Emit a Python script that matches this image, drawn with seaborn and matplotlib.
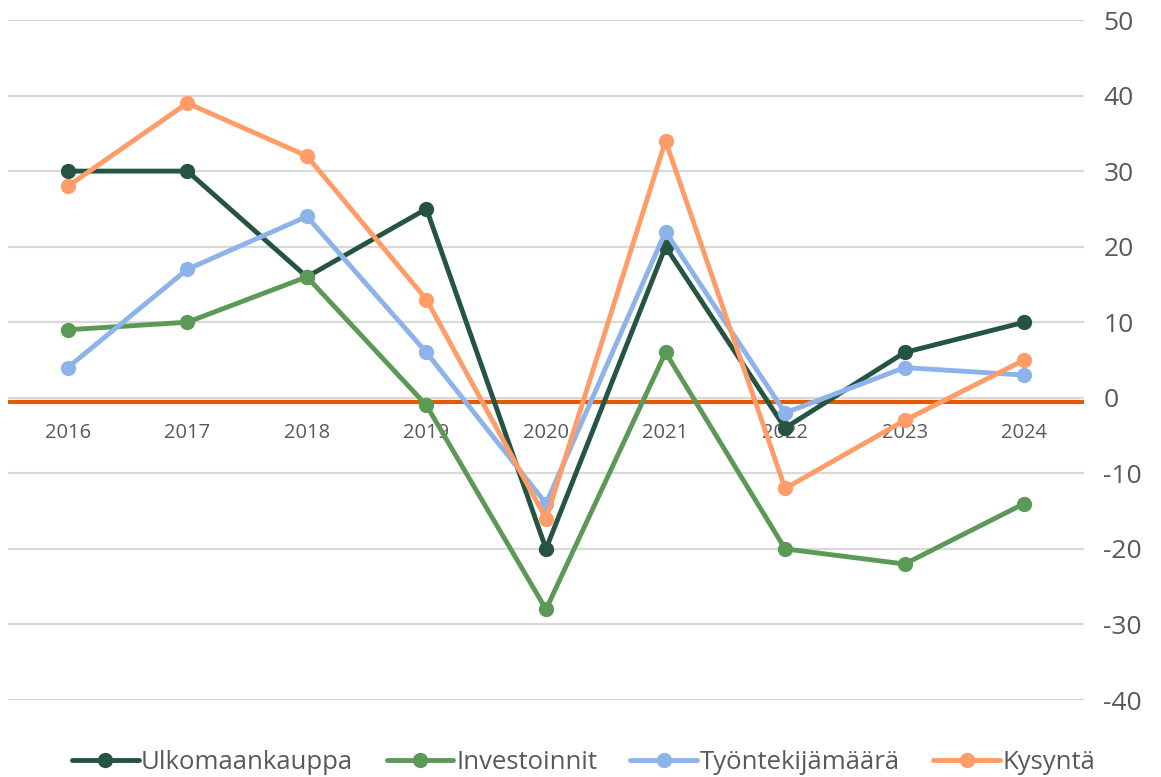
import numpy as np
import pandas as pd
import matplotlib.pyplot as plt
import seaborn as sns

# ── Data ────────────────────────────────────────────────────────────────────
years = ["2016", "2017", "2018", "2019", "2020", "2021", "2022", "2023", "2024"]
ulkomaankauppa = [30, 30, 16, 25, -20, 20, -4, 6, 10]
investoinnit = [9, 10, 16, -1, -28, 6, -20, -22, -14]
tyontekijamaara = [4, 17, 24, 6, -14, 22, -2, 4, 3]
kysynta = [28, 39, 32, 13, -16, 34, -12, -3, 5]
series_names = ["Ulkomaankauppa", "Investoinnit", "Työntekijämäärä", "Kysyntä"]
y_ticks = list(range(-40, 51, 10))

colors = ["#255443", "#5B9A56", "#8DB3EB", "#FF9C68"]

df = pd.DataFrame({
    "Vuosi": years * 4,
    "Arvo": ulkomaankauppa + investoinnit + tyontekijamaara + kysynta,
    "Sarja": [s for s in series_names for _ in years],
})

sns.set_style("white")
plt.rcParams["font.family"] = ["Open Sans", "DejaVu Sans"]

fig = plt.figure(figsize=(11.61, 7.77), dpi=100)
ax = fig.add_axes([8 / 1161, 77 / 777, 1076 / 1161, 680 / 777])

for y in y_ticks:
    ax.axhline(y, color="#D9D9D9", lw=1.6, zorder=0)
ax.axhline(-0.5, color="#E35B00", lw=3, zorder=1)

sns.lineplot(
    data=df, x="Vuosi", y="Arvo", hue="Sarja", hue_order=series_names,
    palette=colors, marker="o", markersize=11, markeredgewidth=0,
    linewidth=3.5, sort=False, ax=ax, zorder=3,
)

ax.set_xlim(-0.5, len(years) - 0.5)
ax.set_ylim(-40, 50)
ax.set_xticks([])
ax.set_xlabel("")
ax.set_ylabel("")
ax.yaxis.tick_right()
ax.set_yticks(y_ticks)
ax.set_yticklabels([str(v) for v in y_ticks])
ax.tick_params(axis="y", length=0, pad=14, labelsize=19, labelcolor="#595959")
for sp in ax.spines.values():
    sp.set_visible(False)

for i, yr in enumerate(years):
    ax.text(i, -4.6, yr, ha="center", va="center", fontsize=14.5, color="#595959", zorder=2)

handles, labels = ax.get_legend_handles_labels()
ax.legend(
    handles, labels, loc="lower center", bbox_to_anchor=(0.535, -0.145),
    ncol=4, frameon=False, fontsize=18.5, handlelength=2.6, handletextpad=0.1,
    columnspacing=1.3, labelcolor="#595959",
)

fig.savefig("out.png", dpi=100)
